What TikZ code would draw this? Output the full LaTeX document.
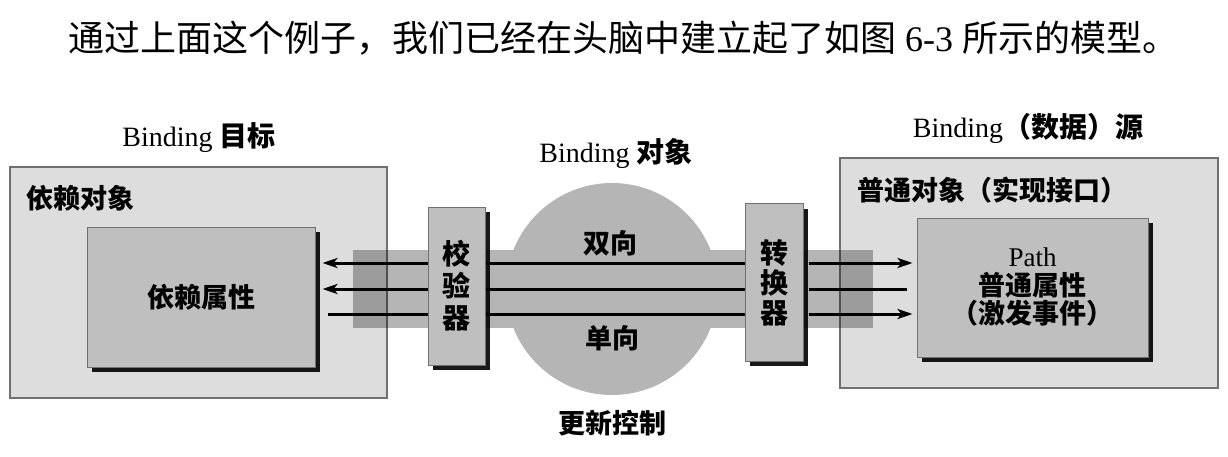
\documentclass[tikz,border=0pt]{standalone}
\usepackage{fontspec}
\setmainfont{Liberation Serif}
\newfontfamily\cjk{Noto Sans CJK SC}
\usetikzlibrary{arrows.meta,shadows}
\definecolor{outerfill}{HTML}{DDDDDD}
\definecolor{innerfill}{HTML}{BFBFBF}
\definecolor{bandfill}{HTML}{B5B5B5}
\definecolor{edgegray}{HTML}{707070}
\tikzset{
  outerbox/.style={draw=edgegray, line width=1.2pt, fill=outerfill, inner sep=0pt},
  innerbox/.style={draw=edgegray, line width=1pt, fill=innerfill, inner sep=0pt,
    drop shadow={shadow xshift=5pt, shadow yshift=-5pt, fill=black, opacity=0.9}},
  lbl/.style={font=\fontsize{27}{32}\selectfont\bfseries, inner sep=0pt},
  ttl/.style={font=\fontsize{28}{32}\selectfont, inner sep=0pt},
  captext/.style={font=\fontsize{36}{40}\selectfont, inner sep=0pt},
  wire/.style={line width=3pt, draw=black},
  arr/.style={wire, -{Stealth[length=15pt,width=10pt,inset=4pt]}},
}
\begin{document}
\begin{tikzpicture}[x=1pt,y=-1pt]
\useasboundingbox (0,0) rectangle (1228,457);
\fill[white] (0,0) rectangle (1228,457);

% caption
\node[captext, anchor=west] (caption) at (68,38) {{\cjk 通过上面这个例子，我们已经在头脑中建立起了如图} 6-3 {\cjk 所示的模型。}};

% outer boxes
\node[outerbox, minimum width=377pt, minimum height=231pt] (tgt) at (198.5,282.5) {};
\node[outerbox, minimum width=378pt, minimum height=230pt] (src) at (1029,273) {};

% band
\fill[black, fill opacity=0.29] (353,250) rectangle (873,328);

% circle
\node[circle, fill=bandfill, minimum size=212pt, inner sep=0pt] (circ) at (612,289) {};

% titles
\node[ttl] (tgtlbl) at (199,138) {Binding {\cjk\bfseries 目标}};
\node[ttl] (objlbl) at (616,153) {Binding {\cjk\bfseries 对象}};
\node[ttl] (srclbl) at (1028,128) {Binding{\cjk\bfseries （数据）源}};

\node[lbl, anchor=west] (depobj) at (26,198) {\cjk\bfseries 依赖对象};
\node[lbl, anchor=west] (normobj) at (857,190) {\cjk\bfseries 普通对象（实现接口）};

% inner boxes
\node[innerbox, minimum width=228pt, minimum height=140pt, font=\fontsize{27}{32}\selectfont] (dp) at (201,297) {\cjk\bfseries 依赖属性};
\node[innerbox, minimum width=231pt, minimum height=139pt, align=center, font=\fontsize{27}{28.5}\selectfont] (pp) at (1032.5,287.5)
  {Path\\{\cjk\bfseries 普通属性}\\{\cjk\bfseries （激发事件）}};

% rows
\coordinate (r1) at (0,263);
\coordinate (r2) at (0,289);
\coordinate (r3) at (0,314);

% validator & converter
\node[innerbox, minimum width=57pt, minimum height=158pt, align=center, font=\fontsize{28}{32}\selectfont] (val) at (456.5,286) {\cjk\bfseries 校\\\cjk\bfseries 验\\\cjk\bfseries 器};
\node[innerbox, minimum width=58pt, minimum height=157pt, align=center, font=\fontsize{28}{30}\selectfont] (conv) at (774,282.5) {\cjk\bfseries 转\\\cjk\bfseries 换\\\cjk\bfseries 器};

% wires
\draw[arr, shorten >=7pt] (val.west |- r1) -- (dp.east |- r1);
\draw[arr, shorten >=7pt] (val.west |- r2) -- (dp.east |- r2);
\draw[wire, shorten >=12pt] (val.west |- r3) -- (dp.east |- r3);

\draw[wire] (val.east |- r1) -- (conv.west |- r1);
\draw[wire] (val.east |- r2) -- (conv.west |- r2);
\draw[wire] (val.east |- r3) -- (conv.west |- r3);

\draw[arr, shorten <=5pt, shorten >=4pt] (conv.east |- r1) -- (pp.west |- r1);
\draw[wire, shorten <=5pt, shorten >=10pt] (conv.east |- r2) -- (pp.west |- r2);
\draw[arr, shorten <=5pt, shorten >=4pt] (conv.east |- r3) -- (pp.west |- r3);

% circle labels
\node[lbl] (twoway) at (610,243) {\cjk\bfseries 双向};
\node[lbl] (oneway) at (612,338) {\cjk\bfseries 单向};
\node[lbl] (update) at (612,423) {\cjk\bfseries 更新控制};
\end{tikzpicture}
\end{document}
